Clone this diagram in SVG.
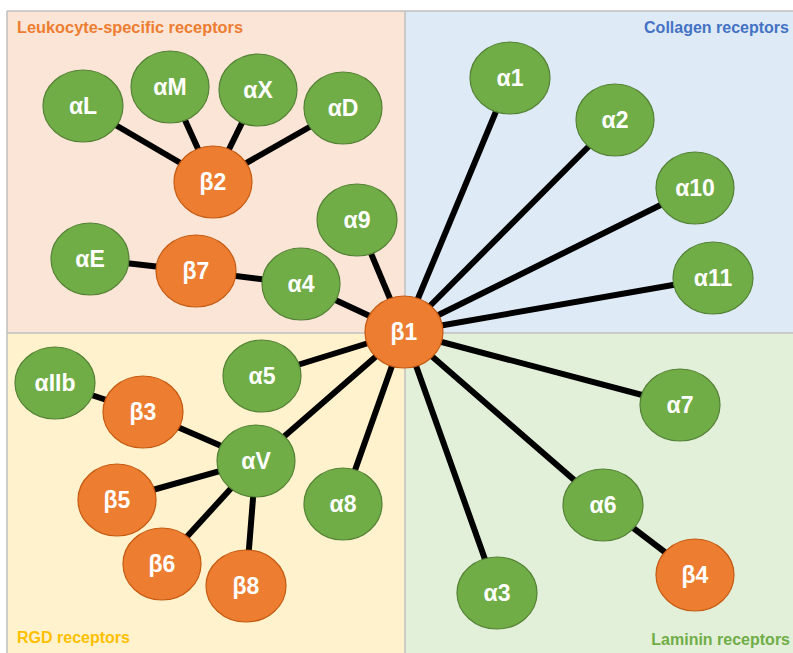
<svg xmlns="http://www.w3.org/2000/svg" width="793" height="653" viewBox="0 0 793 653">
<style>
.q{stroke:#BFBFBF;stroke-width:1.5}
.t{font-family:"Liberation Sans",Arial,sans-serif;font-weight:bold;font-size:16px}
.e{stroke:#000;stroke-width:6;stroke-linecap:butt}
.g{fill:#70AD47;stroke:#548235;stroke-width:1.2}
.o{fill:#ED7D31;stroke:#C55A11;stroke-width:1.2}
.l{font-family:"Liberation Sans",Arial,sans-serif;font-weight:bold;font-size:23px;fill:#fff;text-anchor:middle}
</style>
<rect width="793" height="653" fill="#fff"/>
<g id="quadrants">
<rect x="7" y="11" width="398" height="322" fill="#FBE5D6"/>
<rect x="405" y="11" width="388" height="322" fill="#DEEBF7"/>
<rect x="7" y="333" width="398" height="320" fill="#FFF2CC"/>
<rect x="405" y="333" width="388" height="320" fill="#E2F0D9"/>
<line class="q" x1="7" y1="11" x2="793" y2="11"/>
<line class="q" x1="7" y1="11" x2="7" y2="653"/>
<line class="q" x1="405" y1="11" x2="405" y2="653"/>
<line class="q" x1="7" y1="333" x2="793" y2="333"/>
<text class="t" x="17" y="33" fill="#ED7D31" textLength="226" lengthAdjust="spacingAndGlyphs">Leukocyte-specific receptors</text>
<text class="t" x="789" y="33" fill="#4472C4" text-anchor="end">Collagen receptors</text>
<text class="t" x="17" y="643" fill="#FFC000">RGD receptors</text>
<text class="t" x="790" y="645" fill="#70AD47" text-anchor="end">Laminin receptors</text>
</g>
<g id="connectors">
<line class="e" x1="213" y1="182" x2="83" y2="106"/>
<line class="e" x1="213" y1="182" x2="170" y2="87"/>
<line class="e" x1="213" y1="182" x2="258" y2="90"/>
<line class="e" x1="213" y1="182" x2="343" y2="108"/>
<line class="e" x1="196" y1="271" x2="90" y2="259"/>
<line class="e" x1="196" y1="271" x2="301" y2="284"/>
<line class="e" x1="404" y1="332" x2="301" y2="284"/>
<line class="e" x1="404" y1="332" x2="357" y2="220"/>
<line class="e" x1="404" y1="332" x2="510" y2="78"/>
<line class="e" x1="404" y1="332" x2="615" y2="120"/>
<line class="e" x1="404" y1="332" x2="695" y2="188"/>
<line class="e" x1="404" y1="332" x2="713" y2="278"/>
<line class="e" x1="404" y1="332" x2="680" y2="405"/>
<line class="e" x1="404" y1="332" x2="603" y2="505"/>
<line class="e" x1="404" y1="332" x2="497" y2="593"/>
<line class="e" x1="404" y1="332" x2="343" y2="504"/>
<line class="e" x1="404" y1="332" x2="256" y2="461"/>
<line class="e" x1="404" y1="332" x2="262" y2="376"/>
<line class="e" x1="603" y1="505" x2="695" y2="575"/>
<line class="e" x1="256" y1="461" x2="143" y2="412"/>
<line class="e" x1="256" y1="461" x2="117" y2="500"/>
<line class="e" x1="256" y1="461" x2="162" y2="564"/>
<line class="e" x1="256" y1="461" x2="246" y2="586"/>
<line class="e" x1="143" y1="412" x2="55" y2="383"/>
</g>
<g id="aL"><ellipse class="g" cx="83" cy="106" rx="40" ry="36"/><text class="l" x="83" y="114">αL</text></g>
<g id="aM"><ellipse class="g" cx="170" cy="87" rx="39" ry="36"/><text class="l" x="170" y="95">αM</text></g>
<g id="aX"><ellipse class="g" cx="258" cy="90" rx="39" ry="36"/><text class="l" x="258" y="98">αX</text></g>
<g id="aD"><ellipse class="g" cx="343" cy="108" rx="39" ry="36"/><text class="l" x="343" y="116">αD</text></g>
<g id="b2"><ellipse class="o" cx="213" cy="182" rx="39" ry="36"/><text class="l" x="213" y="190">β2</text></g>
<g id="a9"><ellipse class="g" cx="357" cy="220" rx="40" ry="36"/><text class="l" x="357" y="228">α9</text></g>
<g id="aE"><ellipse class="g" cx="90" cy="259" rx="39" ry="36"/><text class="l" x="90" y="267">αE</text></g>
<g id="b7"><ellipse class="o" cx="196" cy="271" rx="40" ry="36"/><text class="l" x="196" y="279">β7</text></g>
<g id="a4"><ellipse class="g" cx="301" cy="284" rx="39" ry="36"/><text class="l" x="301" y="292">α4</text></g>
<g id="a1"><ellipse class="g" cx="510" cy="78" rx="40" ry="36"/><text class="l" x="510" y="86">α1</text></g>
<g id="a2"><ellipse class="g" cx="615" cy="120" rx="39" ry="36"/><text class="l" x="615" y="128">α2</text></g>
<g id="a10"><ellipse class="g" cx="695" cy="188" rx="39" ry="36"/><text class="l" x="695" y="196">α10</text></g>
<g id="a11"><ellipse class="g" cx="713" cy="278" rx="40" ry="36"/><text class="l" x="713" y="286">α11</text></g>
<g id="b1"><ellipse class="o" cx="404" cy="332" rx="39" ry="36"/><text class="l" x="404" y="340">β1</text></g>
<g id="aIIb"><ellipse class="g" cx="55" cy="383" rx="40" ry="36"/><text class="l" x="55" y="391">αIIb</text></g>
<g id="b3"><ellipse class="o" cx="143" cy="412" rx="40" ry="36"/><text class="l" x="143" y="420">β3</text></g>
<g id="a5"><ellipse class="g" cx="262" cy="376" rx="39" ry="36"/><text class="l" x="262" y="384">α5</text></g>
<g id="aV"><ellipse class="g" cx="256" cy="461" rx="39" ry="36"/><text class="l" x="256" y="469">αV</text></g>
<g id="b5"><ellipse class="o" cx="117" cy="500" rx="39" ry="36"/><text class="l" x="117" y="508">β5</text></g>
<g id="a8"><ellipse class="g" cx="343" cy="504" rx="39" ry="36"/><text class="l" x="343" y="512">α8</text></g>
<g id="b6"><ellipse class="o" cx="162" cy="564" rx="39" ry="36"/><text class="l" x="162" y="572">β6</text></g>
<g id="b8"><ellipse class="o" cx="246" cy="586" rx="40" ry="36"/><text class="l" x="246" y="594">β8</text></g>
<g id="a7"><ellipse class="g" cx="680" cy="405" rx="40" ry="36"/><text class="l" x="680" y="413">α7</text></g>
<g id="a6"><ellipse class="g" cx="603" cy="505" rx="40" ry="36"/><text class="l" x="603" y="513">α6</text></g>
<g id="b4"><ellipse class="o" cx="695" cy="575" rx="39" ry="36"/><text class="l" x="695" y="583">β4</text></g>
<g id="a3"><ellipse class="g" cx="497" cy="593" rx="40" ry="36"/><text class="l" x="497" y="601">α3</text></g>
</svg>
